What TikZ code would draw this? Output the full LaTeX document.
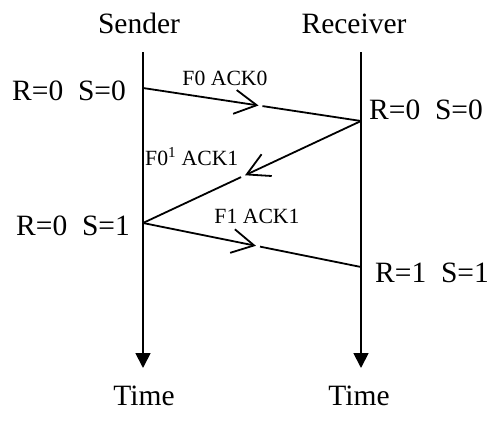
\documentclass[tikz,border=0pt]{standalone}
\usepackage{fontspec}
\setmainfont{Liberation Serif}
\usetikzlibrary{arrows.meta,calc}
\begin{document}
\begin{tikzpicture}[x=1pt,y=-1pt,
  bigtxt/.style={inner sep=0pt,font=\fontsize{29.5}{35}\selectfont},
  smalltxt/.style={inner sep=0pt,font=\fontsize{21.7}{26}\selectfont},
  timeline/.style={line width=1.8pt,-{Triangle[length=15pt,width=15pt]}},
  msg/.style={line width=1.8pt},
  msgtip/.style={line width=1.8pt,-{Straight Barb[length=22pt,width=24pt]}}]
\useasboundingbox (0,0) rectangle (490,423);
% labels
\node[bigtxt,anchor=base] (snd) at (139,33) {Sender};
\node[bigtxt,anchor=base] (rcv) at (354,33) {Receiver};
\node[bigtxt,anchor=base] (t1) at (144,405) {Time};
\node[bigtxt,anchor=base] (t2) at (359,405) {Time};
% timelines
\coordinate (s0) at (143,52);
\coordinate (s1) at (143,368);
\coordinate (r0) at (361,52);
\coordinate (r1) at (361,368);
\draw[timeline] (s0) -- (s1);
\draw[timeline] (r0) -- (r1);
% events
\coordinate (sa) at (143,88);
\coordinate (ra) at (361,121);
\coordinate (sb) at (143,223);
\coordinate (rb) at (361,267);
% messages
\draw[msgtip] (sa) -- ($(sa)!0.53!(ra)$) coordinate (m1);
\draw[msg] ($(sa)!0.548!(ra)$) -- (ra);
\draw[msgtip] (ra) -- ($(ra)!0.532!(sb)$) coordinate (m2);
\draw[msg] ($(ra)!0.55!(sb)$) -- (sb);
\draw[msgtip] (sb) -- ($(sb)!0.518!(rb)$) coordinate (m3);
\draw[msg] ($(sb)!0.537!(rb)$) -- (rb);
% message labels
\node[smalltxt,anchor=base] (l1) at (225,85) {F0 ACK0};
\node[smalltxt,anchor=base west] (l2) at (145,165) {F0\textsuperscript{1} ACK1};
\node[smalltxt,anchor=base] (l3) at (257,223) {F1 ACK1};
% state labels
\node[bigtxt,anchor=base west] (st1) at (12,100) {R=0\hspace{0.5em}S=0};
\node[bigtxt,anchor=base west] (st2) at (369,119) {R=0\hspace{0.5em}S=0};
\node[bigtxt,anchor=base west] (st3) at (16,235) {R=0\hspace{0.5em}S=1};
\node[bigtxt,anchor=base west] (st4) at (375,282) {R=1\hspace{0.5em}S=1};
\end{tikzpicture}
\end{document}
